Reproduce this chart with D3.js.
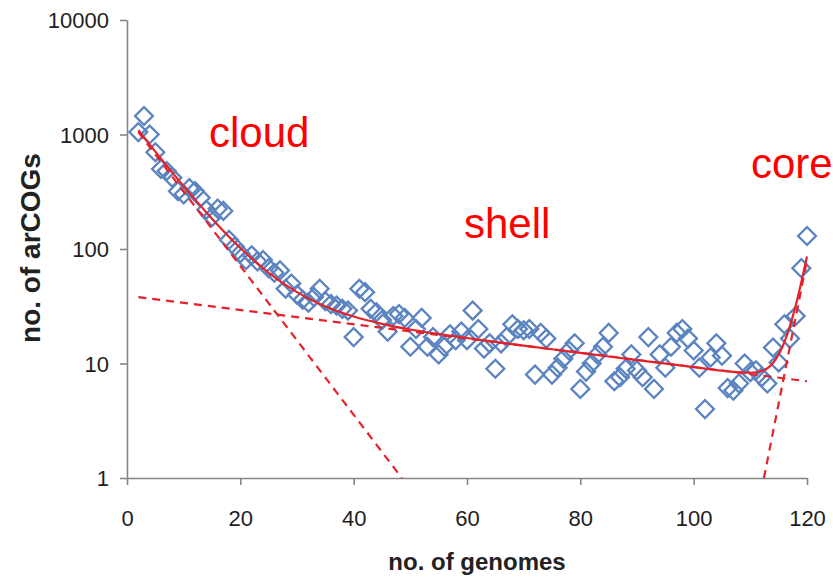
<!DOCTYPE html>
<html>
<head>
<meta charset="utf-8">
<style>
body { margin: 0; background: #fff; }
.axis path, .axis line { stroke: #858585; stroke-width: 1.6; fill: none; }
.axis text { font: 22px "Liberation Sans", Arial, sans-serif; fill: #1e1e1e; }
.title { font-family: "Liberation Sans", Arial, sans-serif; font-weight: bold; fill: #222; }
.zone { font: 42px "Liberation Sans", Arial, sans-serif; fill: #f00; }
</style>
</head>
<body>
<svg id="chart"></svg>
<script src="https://d3js.org/d3.v7.min.js"></script>
<script>

var width = 833, height = 580

// observed counts, one per genome number
var genomes = d3.range(2, 121)
var counts = [1050, 1450, 1000, 700, 500, 480, 420, 320, 300, 340,
  320, 280, 220, 190, 225, 215, 120, 105, 92, 80,
  88, 78, 80, 68, 62, 65, 45, 50, 40, 36,
  34, 38, 45, 35, 33, 32, 30, 29, 17, 45,
  42, 30, 28, 24, 19, 26, 27, 25, 14, 20,
  25, 14, 17, 12, 14, 18, 16, 19, 16, 29,
  20, 13.5, 15, 9, 15, 17, 22, 20, 19.5, 20,
  8, 18.5, 16.5, 8, 9.2, 11, 13, 15, 6, 8.5,
  10, 12, 14, 18.5, 7, 7.6, 9, 12, 8.7, 7.6,
  17, 6, 12, 9.2, 14, 18.5, 20, 16.5, 13, 9.2,
  4, 11.3, 15, 11.7, 6.1, 5.8, 6.7, 10, 8.4, 8.7,
  7.6, 6.7, 13.8, 10.2, 22, 16.5, 26, 68, 130]

// fitted curves
var fitX = [2, 5, 10, 15, 20, 25, 30, 35, 40, 45, 50, 60, 70, 80, 90, 100, 105, 110, 112, 114, 116, 118, 120]
var fitY = [1088, 708, 354, 184, 102, 62, 42, 31.4, 25.7, 22.2, 19.8, 16.7, 14.3, 12.4, 10.7, 9.3, 8.65, 8.3, 8.6, 10.1, 15.3, 32, 86]
var cloudX = [2, 48.5], cloudY = [1050, 1]
var shellX = [2, 120], shellY = [38, 7]
var coreX = [112.4, 120], coreY = [1, 80]

var xTicks = [0, 20, 40, 60, 80, 100, 120]
var yTicks = [1, 10, 100, 1000, 10000]

var x = d3.scaleLinear().domain([0, 120]).range([127, 807])
var y = d3.scaleLog().domain([1, 10000]).range([478, 20])

var svg = d3.select("#chart")
  .attr("width", width)
  .attr("height", height)

svg.append("g")
  .attr("class", "x axis")
  .attr("transform", "translate(0,478)")
  .call(d3.axisBottom(x).tickValues(xTicks).tickSize(7).tickSizeOuter(0).tickPadding(22))

svg.append("g")
  .attr("class", "y axis")
  .attr("transform", "translate(127,0)")
  .call(d3.axisLeft(y).tickValues(yTicks).tickFormat(d3.format("d")).tickSize(7).tickSizeOuter(0).tickPadding(11))

svg.selectAll(".axis text").attr("dy", null)
svg.selectAll(".x.axis text").attr("dy", "0.85em")
svg.selectAll(".y.axis text").attr("dy", "0.36em")

// data points as open diamonds
svg.append("g").selectAll("path")
  .data(genomes)
  .enter().append("path")
    .attr("transform", (d, i) => `translate(${x(d)},${y(counts[i])}) rotate(45)`)
    .attr("d", d3.symbol().type(d3.symbolSquare).size(160))
    .attr("fill", "none")
    .attr("stroke", "#5b84c1")
    .attr("stroke-width", 2.3)

var line = d3.line()
  .x(d => x(d[0]))
  .y(d => y(d[1]))

function pairs(xs, ys) { return xs.map((v, i) => [v, ys[i]]) }

var red = "#e4222a"

svg.append("path")
  .datum(pairs(cloudX, cloudY))
  .attr("d", line)
  .attr("fill", "none").attr("stroke", red).attr("stroke-width", 2.2).attr("stroke-dasharray", "8,6")

svg.append("path")
  .datum(pairs(shellX, shellY))
  .attr("d", line)
  .attr("fill", "none").attr("stroke", red).attr("stroke-width", 2.2).attr("stroke-dasharray", "8,6")

svg.append("path")
  .datum(pairs(coreX, coreY))
  .attr("d", line)
  .attr("fill", "none").attr("stroke", red).attr("stroke-width", 2.2).attr("stroke-dasharray", "8,6")

svg.append("path")
  .datum(pairs(fitX, fitY))
  .attr("d", line.curve(d3.curveMonotoneX))
  .attr("fill", "none").attr("stroke", red).attr("stroke-width", 2.2)

// zone labels
svg.append("text").attr("class", "zone").attr("x", 209).attr("y", 147).text("cloud")
svg.append("text").attr("class", "zone").attr("x", 464).attr("y", 238).text("shell")
svg.append("text").attr("class", "zone").attr("x", 751).attr("y", 178).text("core")

// axis titles
svg.append("text").attr("class", "title")
  .attr("text-anchor", "middle")
  .style("font-size", "24px")
  .attr("x", 477).attr("y", 570)
  .text("no. of genomes")

svg.append("text").attr("class", "title")
  .attr("text-anchor", "middle")
  .style("font-size", "28px")
  .attr("transform", "translate(40,248) rotate(-90)")
  .text("no. of arCOGs")

</script>
</body>
</html>
